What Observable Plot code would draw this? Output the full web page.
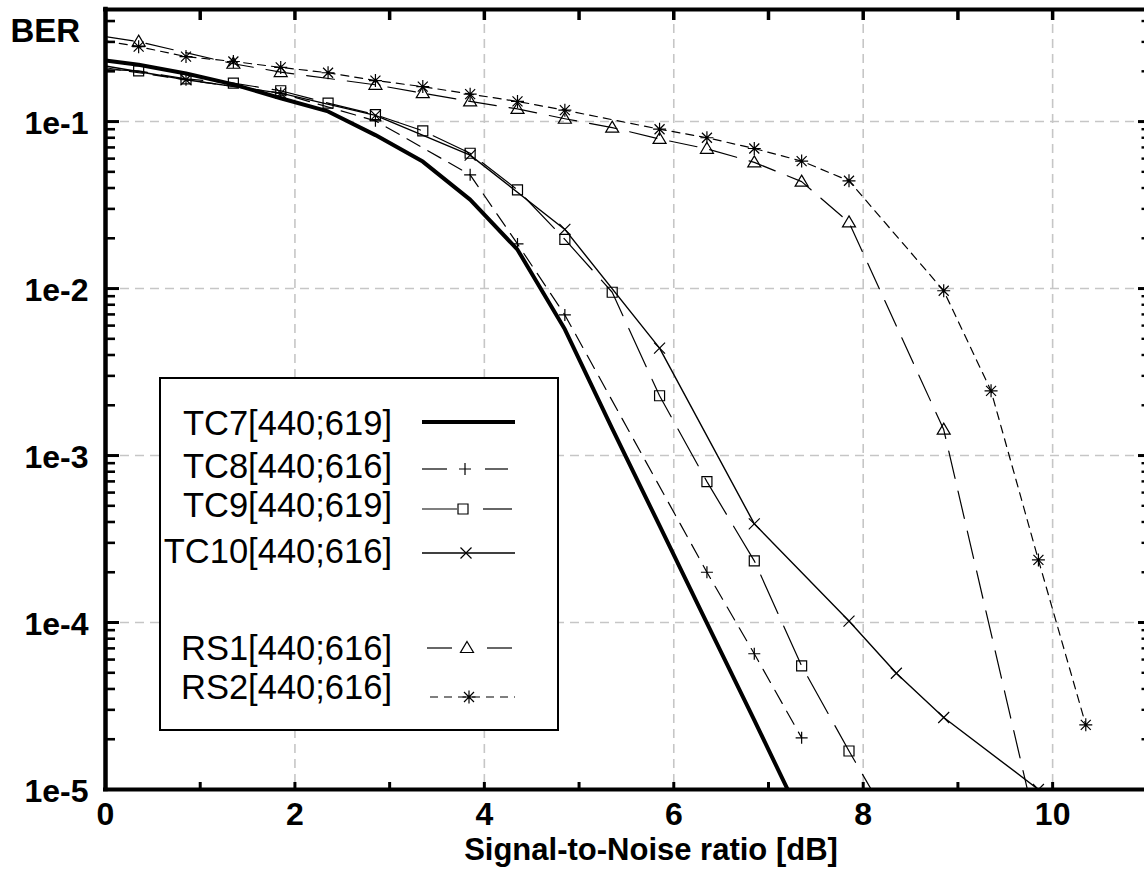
<!DOCTYPE html>
<html><head><meta charset="utf-8">
<script src="https://cdn.jsdelivr.net/npm/d3@7"></script>
<script src="https://cdn.jsdelivr.net/npm/@observablehq/plot@0.6"></script>
<style>
html,body{margin:0;padding:0;background:#fff;}
#chart{position:relative;width:1144px;height:878px;overflow:hidden;}
</style></head><body><div id="chart"></div>
<script>
// ---- data ----
const seriesNames = ["TC7[440;619]", "TC8[440;616]", "TC9[440;619]", "TC10[440;616]", "RS1[440;616]", "RS2[440;616]"];

const tc7X = [0, 0.35, 0.85, 1.35, 1.85, 2.35, 2.85, 3.35, 3.85, 4.35, 4.85, 5.35, 5.85, 6.35, 6.85, 7.35];
const tc7Y = [0.232, 0.219, 0.194, 0.167, 0.138, 0.115, 0.083, 0.0576, 0.0341, 0.0171, 0.0057, 1.45e-3, 3.8e-4, 9.9e-5, 2.6e-5, 6.7e-6];

const tc8X = [0, 0.85, 1.85, 2.85, 3.85, 4.35, 4.85, 6.35, 6.85, 7.35];
const tc8Y = [0.21, 0.178, 0.148, 0.101, 0.048, 0.0185, 0.00695, 2.0e-4, 6.5e-5, 2.04e-5];

const tc9X = [0, 0.35, 0.85, 1.35, 1.85, 2.35, 2.85, 3.35, 3.85, 4.35, 4.85, 5.35, 5.85, 6.35, 6.85, 7.35, 7.85, 8.35];
const tc9Y = [0.205, 0.201, 0.180, 0.170, 0.153, 0.129, 0.110, 0.088, 0.0646, 0.039, 0.0197, 0.0095, 0.00228, 6.98e-4, 2.34e-4, 5.5e-5, 1.7e-5, 5.5e-6];

const tc10X = [0, 0.85, 1.85, 2.85, 3.85, 4.85, 5.85, 6.85, 7.85, 8.35, 8.85, 9.85];
const tc10Y = [0.215, 0.178, 0.148, 0.109, 0.063, 0.0226, 0.0044, 3.9e-4, 1.02e-4, 4.97e-5, 2.7e-5, 1.0e-5];

const rs1X = [0, 0.35, 1.35, 1.85, 2.85, 3.35, 3.85, 4.35, 4.85, 5.35, 5.85, 6.35, 6.85, 7.35, 7.85, 8.85, 9.85];
const rs1Y = [0.323, 0.301, 0.222, 0.198, 0.166, 0.148, 0.132, 0.119, 0.104, 0.092, 0.0787, 0.0687, 0.057, 0.0437, 0.0249, 1.43e-3, 5.2e-6];

const rs2X = [0, 0.35, 0.85, 1.35, 1.85, 2.35, 2.85, 3.35, 3.85, 4.35, 4.85, 5.85, 6.35, 6.85, 7.35, 7.85, 8.85, 9.35, 9.85, 10.35];
const rs2Y = [0.304, 0.281, 0.245, 0.229, 0.211, 0.196, 0.176, 0.162, 0.146, 0.132, 0.117, 0.090, 0.080, 0.069, 0.058, 0.0442, 0.0097, 0.00244, 2.37e-4, 2.44e-5];

const xTickLabelValues = [0, 2, 4, 6, 8, 10];
const xTickLabels = ["0", "2", "4", "6", "8", "10"];
const xMinorTicks = [1, 2, 3, 4, 5, 6, 7, 8, 9, 10];
const yTickValues = [1e-1, 1e-2, 1e-3, 1e-4, 1e-5];
const yTickLabels = ["1e-1", "1e-2", "1e-3", "1e-4", "1e-5"];
const xGrid = [2, 4, 6, 8, 10];
const yGrid = [1e-1, 1e-2, 1e-3, 1e-4];
const xDomain = [0, 10.97];
const yDomain = [1e-5, 0.469];
const xTitle = "Signal-to-Noise ratio [dB]";
const yTitle = "BER";

// ---- symbols (fixed pixel geometry) ----
const symPlus = {draw(c){c.moveTo(-6,0);c.lineTo(6,0);c.moveTo(0,-6);c.lineTo(0,6);}};
const symTimes = {draw(c){c.moveTo(-5.5,-5.5);c.lineTo(5.5,5.5);c.moveTo(-5.5,5.5);c.lineTo(5.5,-5.5);}};
const symSquare = {draw(c){c.moveTo(-5,-5);c.lineTo(5,-5);c.lineTo(5,5);c.lineTo(-5,5);c.closePath();}};
const symTriangle = {draw(c){c.moveTo(0,-6.5);c.lineTo(6.5,4.5);c.lineTo(-6.5,4.5);c.closePath();}};
const symStar = {draw(c){c.moveTo(-6.5,0);c.lineTo(6.5,0);c.moveTo(0,-6.5);c.lineTo(0,6.5);
  c.moveTo(-5,-5);c.lineTo(5,5);c.moveTo(-5,5);c.lineTo(5,-5);}};

const seriesDefs = [
  {name: seriesNames[0], xs: tc7X, ys: tc7Y, width: 4, dash: null, sym: null},
  {name: seriesNames[1], xs: tc8X, ys: tc8Y, width: 1.2, dash: "15,9", sym: symPlus},
  {name: seriesNames[2], xs: tc9X, ys: tc9Y, width: 1.2, dash: "42,14", sym: symSquare},
  {name: seriesNames[3], xs: tc10X, ys: tc10Y, width: 1.4, dash: null, sym: symTimes},
  {name: seriesNames[4], xs: rs1X, ys: rs1Y, width: 1.2, dash: "28,13", sym: symTriangle},
  {name: seriesNames[5], xs: rs2X, ys: rs2Y, width: 1.2, dash: "8,6", sym: symStar}
];
const rows = s => s.xs.map((x, i) => ({series: s.name, x, y: s.ys[i]}));

// ---- layout ----
const W = 1144, H = 878, mL = 105, mR = 0, mT = 9, mB = 89;
const fW = W - mL - mR, fH = H - mT - mB;
const yMinor = [];
for (let e = -5; e <= -1; e++) for (let k = 2; k <= 9; k++) { const v = k * Math.pow(10, e); if (v <= yDomain[1]) yMinor.push(v); }

const marks = [
  Plot.ruleX(xGrid, {x: d => d, stroke: "#c6c6c6", strokeWidth: 1.6, strokeDasharray: "9,6"}),
  Plot.ruleY(yGrid, {y: d => d, stroke: "#c6c6c6", strokeWidth: 1.6, strokeDasharray: "9,6"})
];
for (const s of seriesDefs) {
  marks.push(Plot.line(rows(s), {x: "x", y: "y", stroke: "black", strokeWidth: s.width,
    strokeDasharray: s.dash, strokeLinejoin: "round", clip: true}));
}
for (const s of seriesDefs) {
  if (!s.sym) continue;
  marks.push(Plot.dot(rows(s).filter(d => d.x > 0), {x: "x", y: "y", symbol: s.sym, r: 5,
    stroke: "black", fill: "none", strokeWidth: 1.2, clip: true}));
}
marks.push(
  // ticks
  Plot.tickY(yTickValues, {y: d => d, insetRight: fW - 14, stroke: "black", strokeWidth: 3}),
  Plot.tickY(yMinor, {y: d => d, insetRight: fW - 10, stroke: "black", strokeWidth: 2.6}),
  Plot.tickY(yTickValues, {y: d => d, insetLeft: fW - 6, stroke: "black", strokeWidth: 3}),
  Plot.tickY(yMinor, {y: d => d, insetLeft: fW - 2.5, stroke: "black", strokeWidth: 2.4}),
  Plot.tickX(xMinorTicks, {x: d => d, insetBottom: fH - 11, stroke: "black", strokeWidth: 3.5}),
  Plot.tickX(xMinorTicks, {x: d => d, insetTop: fH - 7, stroke: "black", strokeWidth: 3}),
  // frame: left, bottom, top
  Plot.ruleX([xDomain[0]], {x: d => d, stroke: "black", strokeWidth: 4.5, strokeLinecap: "square"}),
  Plot.ruleY([yDomain[0]], {y: d => d, stroke: "black", strokeWidth: 4, strokeLinecap: "square"}),
  Plot.ruleY([yDomain[1]], {y: d => d, stroke: "black", strokeWidth: 4, strokeLinecap: "square"}),
  // axes labels
  Plot.axisY(yTickValues, {anchor: "left", tickSize: 0, tickPadding: 17, label: null, dy: 2,
    tickFormat: d => yTickLabels[yTickValues.indexOf(d)], fontSize: 32, fontWeight: "bold"}),
  Plot.axisX(xTickLabelValues, {anchor: "bottom", tickSize: 0, tickPadding: 13, label: null,
    tickFormat: d => xTickLabels[xTickLabelValues.indexOf(d)], fontSize: 32, fontWeight: "bold"}),
  Plot.text([xTitle], {frameAnchor: "bottom", lineAnchor: "bottom", dx: 26, dy: 70, fontSize: 31, fontWeight: "bold"}),
  Plot.text([yTitle], {frameAnchor: "top-left", textAnchor: "start", lineAnchor: "bottom", dx: -95, dy: 32, fontSize: 33, fontWeight: "bold"})
);

const plot = Plot.plot({
  width: W, height: H, marginLeft: mL, marginRight: mR, marginTop: mT, marginBottom: mB,
  x: {type: "linear", domain: xDomain},
  y: {type: "log", domain: yDomain},
  style: {fontFamily: "'Liberation Sans', Arial, Helvetica, sans-serif", fontSize: "31px", color: "black", background: "white"},
  marks
});
document.getElementById("chart").appendChild(plot);

// ---- legend box (inside the plot area) ----
const svg = d3.select(plot);
const lg = svg.append("g").attr("class", "legend");
lg.append("rect").attr("x", 160).attr("y", 378).attr("width", 398).attr("height", 352)
  .attr("fill", "white").attr("stroke", "black").attr("stroke-width", 2);
const legendItems = [
  {s: seriesDefs[0], ly: 422, by: 435, segs: [[422, 515]], sx: null},
  {s: seriesDefs[1], ly: 469, by: 478, segs: [[422, 447], [485, 508]], sx: 465},
  {s: seriesDefs[2], ly: 509, by: 517, segs: [[422, 457], [483, 512]], sx: 463},
  {s: seriesDefs[3], ly: 553, by: 563, segs: [[422, 515]], sx: 466},
  {s: seriesDefs[4], ly: 648, by: 660, segs: [[427, 452], [487, 512]], sx: 467},
  {s: seriesDefs[5], ly: 697, by: 699, segs: [[430, 515]], sx: 469, dash: "8,6"}
];
for (const it of legendItems) {
  lg.append("text").attr("x", 392).attr("y", it.by).attr("text-anchor", "end")
    .attr("font-family", "'Liberation Sans', Arial, Helvetica, sans-serif")
    .attr("font-size", 34.5).attr("font-weight", "normal").attr("fill", "black").text(it.s.name);
  for (const [a, b] of it.segs) {
    lg.append("line").attr("x1", a).attr("x2", b).attr("y1", it.ly).attr("y2", it.ly)
      .attr("stroke", "black").attr("stroke-width", it.s.width)
      .attr("stroke-dasharray", it.dash || null);
  }
  if (it.s.sym) {
    lg.append("path").attr("d", d3.symbol(it.s.sym, 64)()).attr("transform", `translate(${it.sx},${it.ly})`)
      .attr("fill", "none").attr("stroke", "black").attr("stroke-width", 1.2);
  }
}
</script></body></html>
